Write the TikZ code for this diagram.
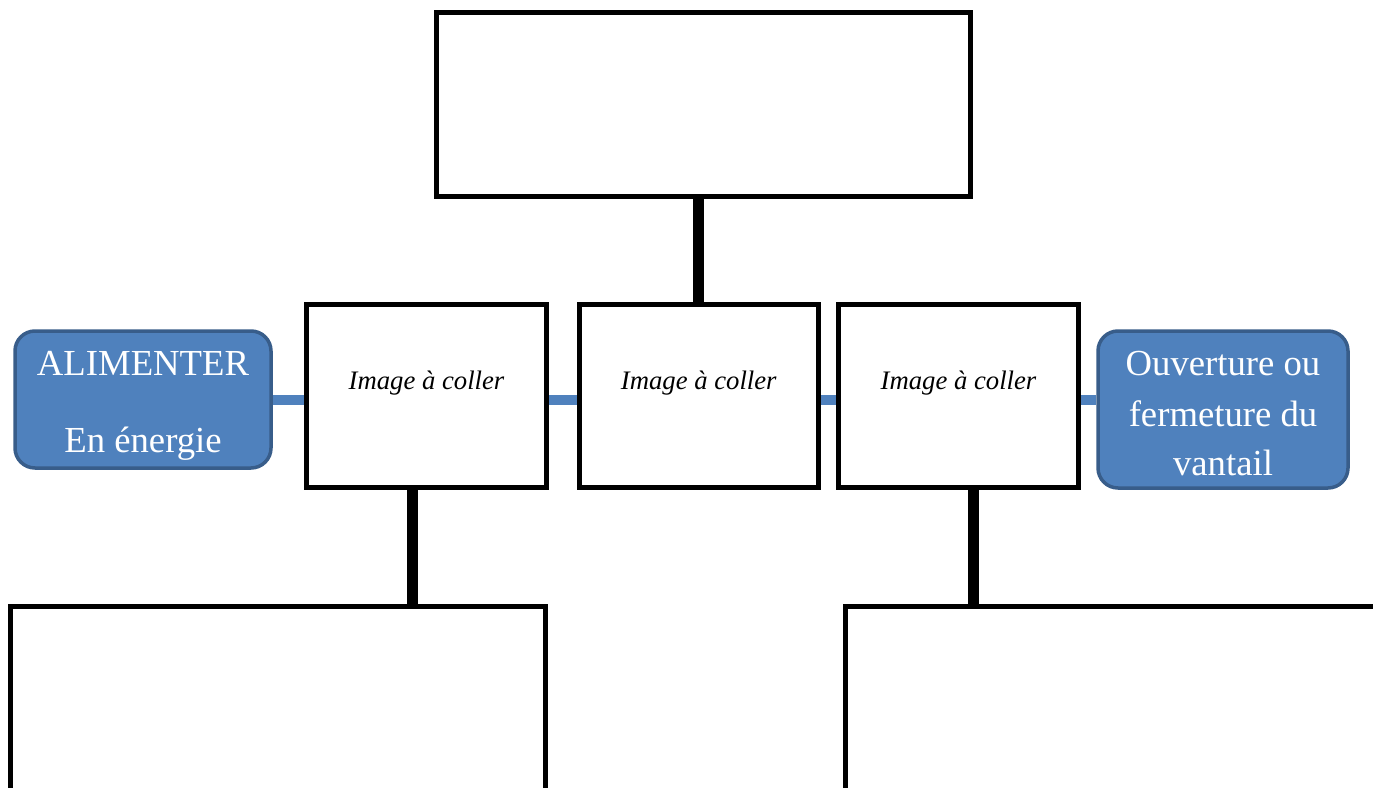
\documentclass[tikz,border=0pt]{standalone}
\usepackage{fontspec}
\setmainfont{Liberation Serif}
\usetikzlibrary{backgrounds}
\definecolor{bfill}{HTML}{4F81BD}
\definecolor{bline}{HTML}{385D8A}
\begin{document}
\begin{tikzpicture}[x=1pt,y=-1pt,
  box/.style={draw=black,line width=5pt,fill=white,rectangle,inner sep=0pt},
  bluebox/.style={draw=bline,line width=3.5pt,fill=bfill,rectangle,rounded corners=20pt,inner sep=0pt},
  bigtxt/.style={text=white,font=\fontsize{36.7}{50}\selectfont,anchor=base,inner sep=0pt},
  imgtxt/.style={font=\fontsize{26.7}{32}\selectfont\itshape,anchor=base,inner sep=0pt},
  thick link/.style={line width=11pt,black},
  blue link/.style={line width=10pt,bfill}]
\clip (0,0) rectangle (1373,787);
% boxes
\node[box,minimum width=534pt,minimum height=184pt] (top) at (703.5,104.5) {};
\node[box,minimum width=240pt,minimum height=183pt] (b1) at (426.5,396) {};
\node[box,minimum width=238.5pt,minimum height=183pt] (b2) at (698.75,396) {};
\node[box,minimum width=240pt,minimum height=183pt] (b3) at (958.5,396) {};
\node[box,minimum width=535.5pt,minimum height=300pt] (bl) at (277.75,756) {};
\node[box,minimum width=555pt,minimum height=300pt] (br) at (1122.5,756) {};
\node[bluebox,minimum width=256pt,minimum height=137pt] (lb) at (143,399.5) {};
\node[bluebox,minimum width=250pt,minimum height=157pt] (rb) at (1223,409.5) {};
% texts
\node[bigtxt] (t1) at (143,375) {ALIMENTER};
\node[bigtxt] (t2) at (143,452) {En énergie};
\node[bigtxt] (t3) at (1223,375) {Ouverture ou};
\node[bigtxt] (t4) at (1223,426) {fermeture du};
\node[bigtxt] (t5) at (1223,475) {vantail};
\node[imgtxt] (i1) at (426.5,389) {Image à coller};
\node[imgtxt] (i2) at (698.75,389) {Image à coller};
\node[imgtxt] (i3) at (958.5,389) {Image à coller};
% connectors
\begin{scope}[on background layer]
\fill[white] (0,0) rectangle (1373,787);
\draw[thick link] ([xshift=-0.25pt]b2.north) -- ([xshift=-0.25pt]b2.north |- top.south);
\draw[thick link] ([xshift=-14pt]b1.south) -- ([xshift=-14pt]b1.south |- bl.north);
\draw[thick link] ([xshift=15pt]b3.south) -- ([xshift=15pt]b3.south |- br.north);
\draw[blue link] (lb.east) -- (lb.east -| b1.west);
\draw[blue link] ([yshift=-4pt]b1.east) -- ([yshift=-4pt]b2.west);
\draw[blue link] ([yshift=-4pt]b2.east) -- ([yshift=-4pt]b3.west);
\draw[blue link] ([yshift=-4pt]b3.east) -- ([yshift=-4pt]b3.east -| rb.west);
\end{scope}
\end{tikzpicture}
\end{document}
